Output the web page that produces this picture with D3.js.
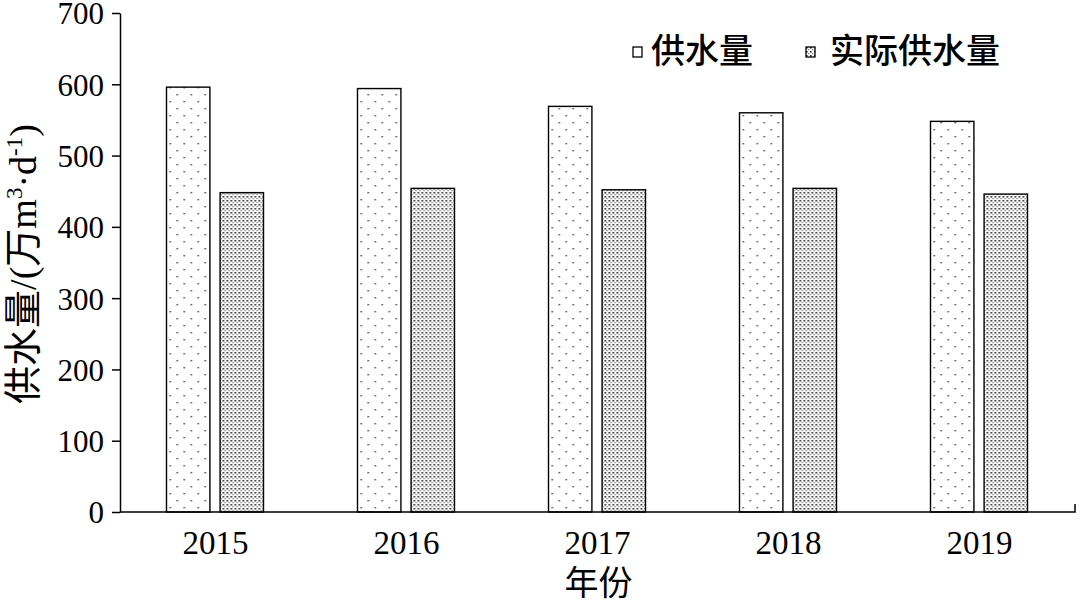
<!DOCTYPE html>
<meta charset="utf-8">
<style>
body { margin: 0; background: #fff; }
.tick text { font-family: 'Liberation Serif', serif; fill: #000; }
.cjk { font-family: 'Noto Sans CJK SC', sans-serif; fill: #000; }
</style>
<body>
<script src="https://d3js.org/d3.v7.min.js"></script>
<script>

const years = ["2015", "2016", "2017", "2018", "2019"];
const supply = [596, 594, 569, 560, 548];
const actual = [448, 454, 452, 454, 446];
const series = ["供水量", "实际供水量"];
const yTicks = [0, 100, 200, 300, 400, 500, 600, 700];

const width = 1080, height = 604;
const margin = {left: 120, right: 5, top: 13, bottom: 92};

const svg = d3.select("body").append("svg")
    .attr("width", width)
    .attr("height", height);

// dot fills
const defs = svg.append("defs");
const sparse = defs.append("pattern")
    .attr("id", "sparse").attr("patternUnits", "userSpaceOnUse")
    .attr("width", 14).attr("height", 14);
sparse.append("rect").attr("width", 14).attr("height", 14).attr("fill", "#fff");
sparse.append("rect").attr("x", 3).attr("y", 3).attr("width", 1.4).attr("height", 1.4).attr("fill", "#333");
sparse.append("rect").attr("x", 10).attr("y", 10).attr("width", 1.4).attr("height", 1.4).attr("fill", "#333");

const dense = defs.append("pattern")
    .attr("id", "dense").attr("patternUnits", "userSpaceOnUse")
    .attr("width", 4).attr("height", 4);
dense.append("rect").attr("width", 4).attr("height", 4).attr("fill", "#fff");
dense.append("rect").attr("x", 0).attr("y", 0).attr("width", 1.6).attr("height", 1.6).attr("fill", "#222");
dense.append("rect").attr("x", 2).attr("y", 2).attr("width", 1.3).attr("height", 1.3).attr("fill", "#777");

const fills = ["url(#sparse)", "url(#dense)"];

const x = d3.scaleBand()
    .domain(years)
    .range([margin.left, width - margin.right]);

const xSub = d3.scaleBand()
    .domain(series)
    .range([0, 97])
    .paddingInner(0.19);

const y = d3.scaleLinear()
    .domain([0, 700])
    .range([height - margin.bottom, margin.top]);

const data = years.map((yr, i) => ({year: yr, values: [supply[i], actual[i]]}));

const groups = svg.append("g")
    .selectAll("g")
    .data(data)
    .join("g")
        .attr("transform", d => `translate(${x(d.year) + x.bandwidth() / 2 - 49},0)`);

groups.selectAll("rect")
    .data(d => d.values.map((v, i) => ({key: series[i], value: v, i})))
    .join("rect")
        .attr("x", d => xSub(d.key))
        .attr("y", d => y(d.value))
        .attr("width", xSub.bandwidth())
        .attr("height", d => y(0) - y(d.value))
        .attr("fill", d => fills[d.i])
        .attr("stroke", "#000")
        .attr("stroke-width", 1.4);

// y axis
const yAxis = svg.append("g")
    .attr("transform", `translate(${margin.left},0)`)
    .call(d3.axisLeft(y).tickValues(yTicks).tickSize(8).tickPadding(8).tickSizeOuter(0));
yAxis.select(".domain").attr("stroke", "#000").attr("stroke-width", 1.5);
yAxis.selectAll(".tick line").attr("stroke", "#000").attr("stroke-width", 1.5);
yAxis.selectAll(".tick text").attr("dy", "0.35em").attr("font-size", 31);

// x axis
const xAxis = svg.append("g")
    .attr("transform", `translate(0,${height - margin.bottom})`)
    .call(d3.axisBottom(x).tickSize(0).tickPadding(19));
xAxis.select(".domain").attr("stroke", "#000").attr("stroke-width", 1.5)
    .attr("d", `M${margin.left},0H${width - margin.right}V-8`);
xAxis.selectAll(".tick text").attr("dy", "0.71em").attr("font-size", 33);

// axis titles
svg.append("text")
    .attr("class", "cjk")
    .attr("x", x.range()[0] + (x.range()[1] - x.range()[0]) / 2 + 1)
    .attr("y", height - 9)
    .attr("text-anchor", "middle")
    .attr("font-size", 34)
    .text("年份");

const yTitle = svg.append("text")
    .attr("transform", `translate(36,264) rotate(-90)`)
    .attr("text-anchor", "middle")
    .attr("font-size", 38);
yTitle.append("tspan").attr("class", "cjk").text("供水量");
yTitle.append("tspan").attr("font-family", "Liberation Serif").text("/(");
yTitle.append("tspan").attr("class", "cjk").text("万");
yTitle.append("tspan").attr("font-family", "Liberation Serif").text("m");
yTitle.append("tspan").attr("font-family", "Liberation Serif").attr("font-size", 23).attr("dy", -14).text("3");
yTitle.append("tspan").attr("font-family", "Liberation Serif").attr("dy", 14).text("·d");
yTitle.append("tspan").attr("font-family", "Liberation Serif").attr("font-size", 23).attr("dy", -14).text("-1");
yTitle.append("tspan").attr("font-family", "Liberation Serif").attr("dy", 14).text(")");

// legend
const legendX = [633, 806];
const legend = svg.append("g")
    .selectAll("g")
    .data(series)
    .join("g")
        .attr("transform", (d, i) => `translate(${legendX[i]},47)`);
legend.append("rect")
    .attr("width", 9).attr("height", 10)
    .attr("fill", (d, i) => i === 0 ? "#fff" : fills[i])
    .attr("stroke", "#000").attr("stroke-width", 1.3);
legend.append("text")
    .attr("class", "cjk")
    .attr("x", (d, i) => i === 0 ? 18 : 24)
    .attr("y", 4)
    .attr("dy", "0.35em")
    .attr("font-size", 34)
    .attr("font-weight", 500)
    .text(d => d);

</script>
